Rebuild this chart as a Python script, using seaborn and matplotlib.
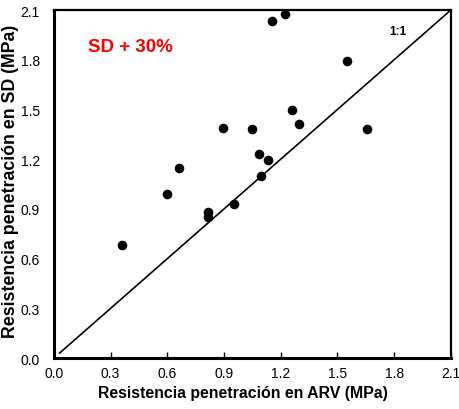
import matplotlib
matplotlib.use("Agg")
import matplotlib.pyplot as plt
import seaborn as sns
import pandas as pd

arv = [1.153, 1.222, 1.55, 1.259, 1.296, 0.894, 1.048, 1.656, 1.085, 1.132,
       1.095, 0.661, 0.598, 0.815, 0.815, 0.952, 0.36]
sd = [2.034, 2.076, 1.79, 1.50, 1.41, 1.386, 1.38, 1.38, 1.229, 1.198,
      1.10, 1.15, 0.99, 0.88, 0.85, 0.93, 0.68]
ticks = [0.0, 0.3, 0.6, 0.9, 1.2, 1.5, 1.8, 2.1]
line_xy = [0.03, 2.1]

sns.set_theme(style="white")
plt.rcParams['font.family'] = ['Liberation Sans', 'DejaVu Sans']

df = pd.DataFrame({"ARV": arv, "SD": sd})
fig = plt.figure(figsize=(4.6, 4.1), dpi=100)
ax = fig.add_axes([0.117, 0.124, 0.863, 0.849])

ax.plot(line_xy, line_xy, color="black", lw=1.2, zorder=1)
sns.scatterplot(data=df, x="ARV", y="SD", ax=ax, color="black", s=48,
                edgecolor="black", linewidth=0, zorder=2)

ax.set_xlim(0, 2.1)
ax.set_ylim(0, 2.1)
ax.set_xticks(ticks)
ax.set_yticks(ticks)
ax.set_xticklabels([f"{t:.1f}" for t in ticks], fontsize=10)
ax.set_yticklabels([f"{t:.1f}" for t in ticks], fontsize=10)
ax.tick_params(axis="x", direction="in", length=4, width=1, pad=6, bottom=True, colors="black")
ax.tick_params(axis="y", length=0, pad=10, colors="black")

for sp in ax.spines.values():
    sp.set_color("black")
    sp.set_linewidth(1.6)
ax.spines["bottom"].set_linewidth(2.2)
ax.spines["left"].set_linewidth(2.2)

ax.set_xlabel("Resistencia penetración en ARV (MPa)", fontsize=11.4, fontweight="bold",
              labelpad=3.5, color="black")
ax.xaxis.label.set_x(0.477)
ax.set_ylabel("Resistencia penetración en SD (MPa)", fontsize=12.8, fontweight="bold",
              labelpad=1.5, color="black")
ax.yaxis.label.set_y(0.51)

ax.text(0.18, 1.88, "SD + 30%", color="red", fontsize=13.5, fontweight="bold",
        va="center", ha="left")
ax.text(1.775, 1.975, "1:1", color="black", fontsize=8.5, fontweight="bold",
        va="center", ha="left")

fig.savefig("out.png", dpi=100)
